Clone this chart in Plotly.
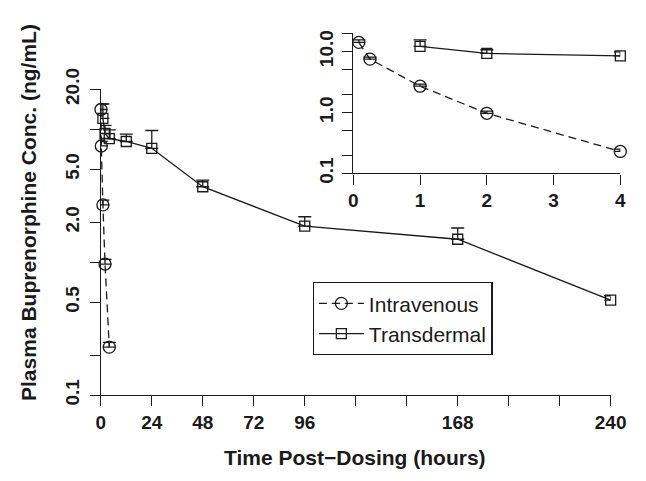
import plotly.graph_objects as go

# ---- data ----
iv_time = [0.083, 0.25, 1, 2, 4]
iv_conc = [14.1, 7.5, 2.7, 0.97, 0.23]
iv_err = [1.4, 0.6, 0.23, 0.08, 0.02]

td_time = [1, 2, 4, 12, 24, 48, 96, 168, 240]
td_conc = [12.1, 9.3, 8.5, 8.1, 7.2, 3.7, 1.87, 1.49, 0.52]
td_err = [3.4, 1.4, 1.4, 1.1, 2.6, 0.45, 0.33, 0.32, 0.04]

x_ticks = [0, 24, 48, 72, 96, 120, 144, 168, 192, 216, 240]
x_labels = ["0", "24", "48", "72", "96", "", "", "168", "", "", "240"]
y_ticks = [0.1, 0.2, 0.5, 1, 2, 5, 10, 20]
y_labels = ["0.1", "", "0.5", "", "2.0", "5.0", "", "20.0"]

in_x_ticks = [0, 1, 2, 3, 4]
in_x_labels = ["0", "1", "2", "3", "4"]
in_y_labels = ["0.1", "", "", "1.0", "", "", "10.0", ""]

INK = "#1a1a1a"
FONT = "Liberation Sans"
LW = 1.3

W, H = 646, 481
def px_x(p):
    return p / W
def px_y(p):
    return (H - p) / H

fig = go.Figure()

def add_series(t, c, e, name, sym, size, dash, xa, ya, showleg):
    fig.add_trace(go.Scatter(
        x=t, y=c, name=name, mode="lines+markers",
        line=dict(color=INK, width=LW, dash=dash),
        marker=dict(symbol=sym, size=size, color=INK, line=dict(color=INK, width=LW)),
        error_y=dict(type="data", symmetric=False, array=e, arrayminus=[0] * len(e),
                     color=INK, thickness=LW, width=6.5),
        xaxis=xa, yaxis=ya, showlegend=showleg, cliponaxis=False,
    ))

add_series(iv_time, iv_conc, iv_err, "Intravenous", "circle-open", 12, "8px,5px", "x", "y", True)
add_series(td_time, td_conc, td_err, "Transdermal", "square-open", 10, "solid", "x", "y", True)

# inset: first 4 hours
ii = [i for i, t in enumerate(iv_time) if t <= 4]
tt = [i for i, t in enumerate(td_time) if t <= 4]
add_series([iv_time[i] for i in ii], [iv_conc[i] for i in ii], [iv_err[i] for i in ii],
           "Intravenous", "circle-open", 12, "8px,5px", "x2", "y2", False)
add_series([td_time[i] for i in tt], [td_conc[i] for i in tt], [td_err[i] for i in tt],
           "Transdermal", "square-open", 10, "solid", "x2", "y2", False)

tickfont = dict(family=FONT, size=19, color=INK, weight="bold")
axis_common = dict(showline=True, linecolor=INK, linewidth=LW, ticks="outside",
                   ticklen=10, tickwidth=LW, tickcolor=INK, showgrid=False,
                   zeroline=False, tickfont=tickfont)

fig.update_layout(
    width=W, height=H, margin=dict(l=0, r=0, t=0, b=0),
    paper_bgcolor="white", plot_bgcolor="rgba(0,0,0,0)",
    xaxis=dict(domain=[px_x(99), px_x(626)], range=[0, 240], tickmode="array",
               tickvals=x_ticks, ticktext=x_labels, anchor="y", **axis_common),
    yaxis=dict(domain=[px_y(400), px_y(73)], type="log", range=[-1, 1.30103],
               tickmode="array", tickvals=y_ticks, ticktext=y_labels, tickangle=-90,
               ticklabelstandoff=3, anchor="x", **axis_common),
    xaxis2=dict(domain=[px_x(360), px_x(636)], range=[0, 4], tickmode="array",
                tickvals=in_x_ticks, ticktext=in_x_labels, anchor="y2", **axis_common),
    yaxis2=dict(domain=[px_y(163), px_y(13)], type="log", range=[-1, 1.30103],
                tickmode="array", tickvals=y_ticks, ticktext=in_y_labels, tickangle=-90,
                ticklabelstandoff=2, anchor="x2", **axis_common),
    legend=dict(x=px_x(318), y=px_y(279), xanchor="left", yanchor="top",
                bordercolor=INK, borderwidth=1.2, bgcolor="white", itemwidth=45,
                tracegroupgap=0,
                font=dict(family=FONT, size=21, color=INK)),
    annotations=[
        dict(text="<b>Time Post\u2212Dosing (hours)</b>", x=px_x(362), y=px_y(467),
             xref="paper", yref="paper", showarrow=False, xanchor="center", yanchor="middle",
             font=dict(family=FONT, size=21, color=INK)),
        dict(text="<b>Plasma Buprenorphine Conc. (ng/mL)</b>", x=px_x(25), y=px_y(205),
             xref="paper", yref="paper", showarrow=False, xanchor="center", yanchor="middle",
             textangle=-90, font=dict(family=FONT, size=21, color=INK)),
    ],
)

fig.write_html("out.html",
               post_script="document.body.style.margin='0';document.body.style.overflow='hidden';")
